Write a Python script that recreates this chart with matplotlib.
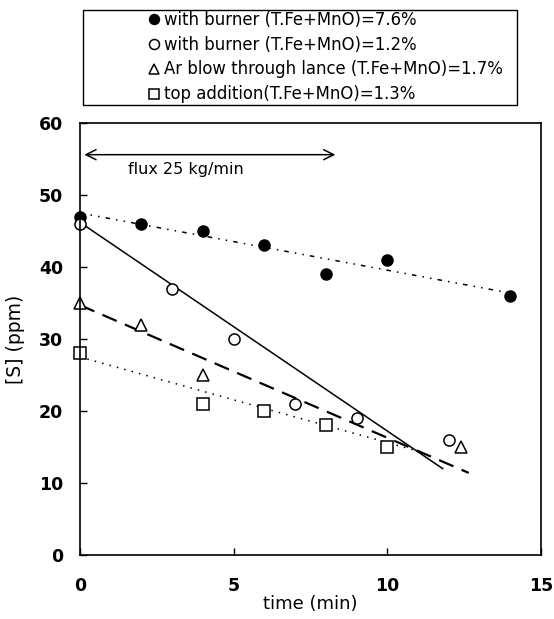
import matplotlib
matplotlib.use("Agg")
import matplotlib.pyplot as plt
from matplotlib.patches import Rectangle

plt.rcParams['font.family'] = ['DejaVu Sans']

# data points
t_fill = [0, 2, 4, 6, 8, 10, 14]
s_fill = [47, 46, 45, 43, 39, 41, 36]
t_open = [0, 3, 5, 7, 9, 12]
s_open = [46, 37, 30, 21, 19, 16]
t_tri = [0, 2, 4, 12.4]
s_tri = [35, 32, 25, 15]
t_sq = [0, 4, 6, 8, 10]
s_sq = [28, 21, 20, 18, 15]

# trend lines (endpoints)
fit_fill_t = [0, 14.1]
fit_fill_s = [47.5, 36.3]
fit_open_t = [0, 11.8]
fit_open_s = [46.2, 12.0]
fit_tri_t = [0, 12.65]
fit_tri_s = [34.7, 11.4]
fit_sq_t = [0, 11.1]
fit_sq_s = [27.5, 14.3]

labels = ["with burner (T.Fe+MnO)=7.6%",
          "with burner (T.Fe+MnO)=1.2%",
          "Ar blow through lance (T.Fe+MnO)=1.7%",
          "top addition(T.Fe+MnO)=1.3%"]

fig = plt.figure(figsize=(5.54, 6.19), dpi=100)
ax = fig.add_axes([80/554, 1-555/619, (541-80)/554, (555-123)/619])

ax.plot(fit_fill_t, fit_fill_s, color='black', lw=1.1, dashes=[3, 4, 1, 4, 1, 4])
ax.plot(fit_open_t, fit_open_s, color='black', lw=1.1)
ax.plot(fit_tri_t, fit_tri_s, color='black', lw=1.6, dashes=[7, 4])
ax.plot(fit_sq_t, fit_sq_s, color='black', lw=1.1, dashes=[1, 4])

h1, = ax.plot(t_fill, s_fill, 'o', ms=8, mfc='black', mec='black', ls='none', clip_on=False)
h2, = ax.plot(t_open, s_open, 'o', ms=8, mfc='white', mec='black', mew=1.1, ls='none', clip_on=False)
h3, = ax.plot(t_tri, s_tri, '^', ms=8, mfc='white', mec='black', mew=1.1, ls='none', clip_on=False)
h4, = ax.plot(t_sq, s_sq, 's', ms=8, mfc='white', mec='black', mew=1.1, ls='none', clip_on=False)

ax.set_xlim(0, 15)
ax.set_ylim(0, 60)
ax.set_xticks([0, 5, 10, 15])
ax.set_yticks([0, 10, 20, 30, 40, 50, 60])
ax.tick_params(direction='in', length=5, width=1, labelsize=12.5, top=False, right=False)
ax.tick_params(axis='x', pad=16)
ax.tick_params(axis='y', pad=12)
for lab in ax.get_xticklabels() + ax.get_yticklabels():
    lab.set_fontweight('bold')
for sp in ax.spines.values():
    sp.set_linewidth(1.2)

ax.set_xlabel("time (min)", fontsize=13, labelpad=0)
ax.set_ylabel("[S] (ppm)", fontsize=13.5, labelpad=10)

ax.annotate("", xy=(0.05, 55.6), xytext=(8.4, 55.6),
            arrowprops=dict(arrowstyle='<->', color='black', lw=1.1, mutation_scale=18))
ax.text(1.55, 53.6, "flux 25 kg/min", fontsize=11.5, va='center', ha='left')

# legend frame
fig.patches.append(Rectangle((83/554, 1-105/619), (517-83)/554, 95/619,
                             transform=fig.transFigure, fill=False, ec='black', lw=1.0))
leg = fig.legend([h1, h2, h3, h4], labels, loc='center left',
                 bbox_to_anchor=(141/554, 1-57/619), frameon=False, fontsize=11.9,
                 handlelength=0.6, handletextpad=0.3, labelspacing=0.42, borderpad=0,
                 markerscale=0.9)

fig.savefig("out.png", dpi=100)
